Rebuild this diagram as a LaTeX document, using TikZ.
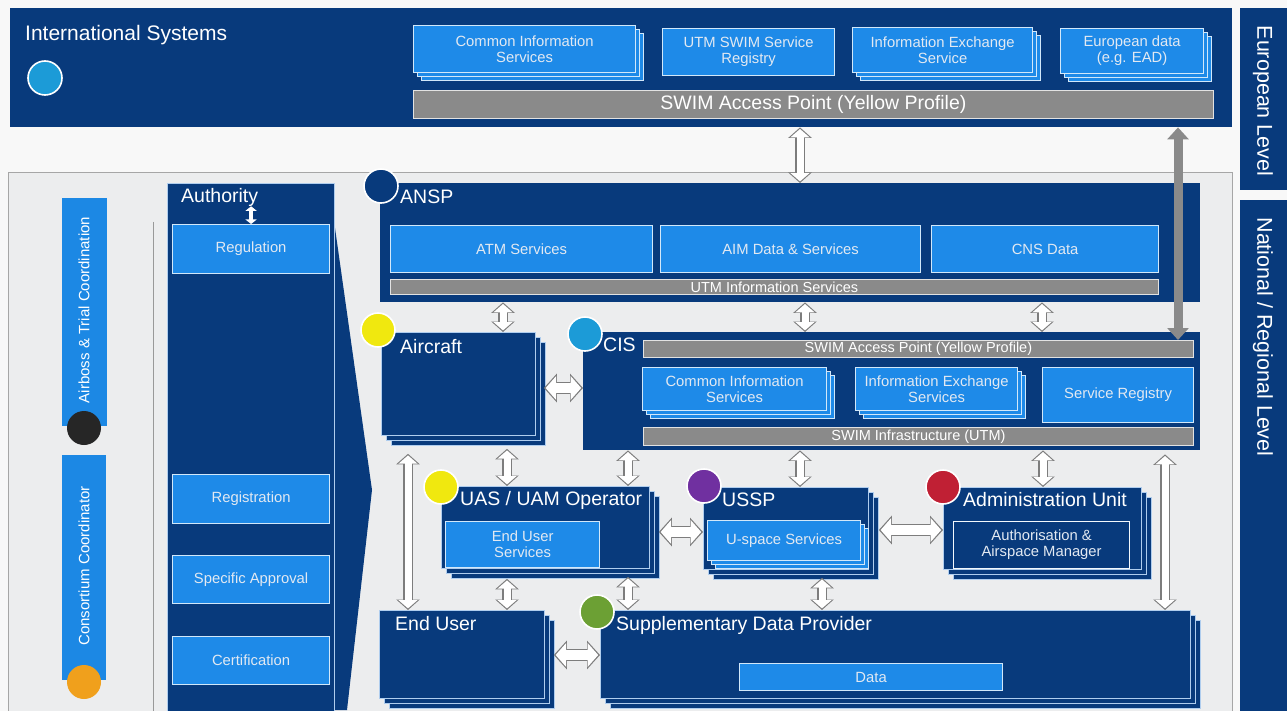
\documentclass[tikz,border=0pt]{standalone}
\usepackage{fontspec}
\setmainfont{Liberation Sans}
\usetikzlibrary{arrows.meta,shadows,calc}
\definecolor{navy}{RGB}{8,58,124}
\definecolor{bblue}{RGB}{30,138,232}
\definecolor{barblue}{RGB}{28,136,228}
\definecolor{bargray}{RGB}{138,138,138}
\definecolor{mainbg}{RGB}{236,237,238}
\definecolor{topbg}{RGB}{248,248,248}
\definecolor{boxtext}{RGB}{226,233,242}
\definecolor{lline}{RGB}{175,205,238}
\definecolor{arrgray}{RGB}{125,125,125}
\definecolor{dcyan}{RGB}{28,155,215}
\definecolor{dyellow}{RGB}{240,232,15}
\definecolor{dpurple}{RGB}{112,48,160}
\definecolor{dred}{RGB}{192,32,52}
\definecolor{dgreen}{RGB}{108,160,52}
\definecolor{dblack}{RGB}{38,38,38}
\definecolor{dorange}{RGB}{240,160,28}
\begin{document}
\begin{tikzpicture}[x=1pt,y=-1pt,
  base/.style={rectangle, inner sep=0pt, anchor=north west, align=center},
  wh/.style 2 args={minimum width=#1pt, minimum height=#2pt},
  navybox/.style={base, fill=navy},
  navystack/.style={base, fill=navy, draw=lline, line width=0.8pt,
     double copy shadow={shadow xshift=5pt, shadow yshift=-5pt}},
  bluebox/.style={base, fill=bblue, draw=white!80!bblue, line width=1.2pt,
     text=boxtext, font=\fontsize{14.8}{16}\selectfont},
  bluestack/.style={bluebox, double copy shadow={shadow xshift=4pt, shadow yshift=-4pt}},
  graybar/.style={base, fill=bargray, draw=white!75!bargray, line width=0.8pt, text=white},
  dot/.style={circle, minimum size=34pt, inner sep=0pt, draw=white, line width=1.6pt},
  title/.style={anchor=west, text=white, font=\fontsize{19.5}{21}\selectfont, inner sep=0pt},
  vtext/.style={text=white, inner sep=0pt},
  dbl/.style={draw=arrgray, line width=9.5pt,
     {Triangle[length=10.5pt,width=23pt]}-{Triangle[length=10.5pt,width=23pt]},
     postaction={draw=white, line width=7pt, shorten <=1.6pt, shorten >=1.6pt,
     {Triangle[length=8.3pt,width=18.6pt]}-{Triangle[length=8.3pt,width=18.6pt]}}},
  dblbig/.style={draw=arrgray, line width=12pt,
     {Triangle[length=13pt,width=28pt]}-{Triangle[length=13pt,width=28pt]},
     postaction={draw=white, line width=9.2pt, shorten <=1.8pt, shorten >=1.8pt,
     {Triangle[length=10.6pt,width=23.4pt]}-{Triangle[length=10.6pt,width=23.4pt]}}},
  garr/.style={draw=bargray, line width=9pt,
     {Triangle[length=12pt,width=21pt]}-{Triangle[length=12pt,width=21pt]}},
  sdbl/.style={draw=white, line width=4pt,
     {Triangle[length=4.5pt,width=11pt]}-{Triangle[length=4.5pt,width=11pt]}}
]
\useasboundingbox (0,0) rectangle (1287,711);
\fill[topbg] (0,0) rectangle (1287,711);

% main national area
\draw[draw=black!35, line width=1pt, fill=mainbg] (8,173) rectangle (1232,730);

% ---------- International systems ----------
\node[navybox, wh={1222}{119}] (intl) at (10,8) {};
\node[title, font=\fontsize{21}{23}\selectfont] (intlT) at (25,35) {International Systems};
\node[dot, fill=dcyan] (intlD) at (45,78) {};
\node[bluestack, wh={222}{47}] (tcis) at (413,25) {Common Information\\Services};
\node[bluebox, wh={172}{47}] (treg) at (662,28) {UTM SWIM Service\\Registry};
\node[bluestack, wh={180}{45}] (ties) at (852,27) {Information Exchange\\Service};
\node[bluestack, wh={143}{45}] (teur) at (1060,28) {European data\\(e.g. EAD)};
\node[graybar, wh={800}{28}, font=\fontsize{19.5}{21}\selectfont] (tswim) at (413,90) {SWIM Access Point (Yellow Profile)};

% ---------- right level panels ----------
\node[navybox, wh={47}{182}] (eur) at (1240,8) {};
\node[vtext, rotate=-90, font=\fontsize{21.5}{23}\selectfont] (eurT) at (1263,101) {European Level};
\node[navybox, wh={47}{515}] (nat) at (1240,200) {};
\node[vtext, rotate=-90, font=\fontsize{21.5}{23}\selectfont] (natT) at (1263,337) {National / Regional Level};

% ---------- left coordination bars ----------
\draw[black!40, line width=1pt] (153,222) -- (153,711);
\node[base, fill=barblue, wh={45}{228}] (airb) at (62,198) {};
\node[vtext, rotate=90, font=\fontsize{15}{17}\selectfont] (airbT) at (84,310) {Airboss \& Trial Coordination};
\node[dot, fill=dblack, draw=none] (airbD) at (84,428) {};
\node[base, fill=barblue, wh={44}{225}] (cons) at (62,455) {};
\node[vtext, rotate=90, font=\fontsize{15}{17}\selectfont] (consT) at (84,566) {Consortium Coordinator};
\node[dot, fill=dorange, draw=none] (consD) at (84,682) {};

% ---------- Authority ----------
\fill[navy] (335,228) -- (372,490) -- (347,710) -- (335,710) -- cycle;
\node[navybox, draw=lline, line width=0.8pt, wh={167}{530}] (auth) at (167,183) {};
\node[title] (authT) at (181,197) {Authority};
\node[bluebox, wh={157}{49}] (reg) at (172,224) {Regulation};
\node[bluebox, wh={157}{49}] (regis) at (172,474) {Registration};
\node[bluebox, wh={157}{48}] (spec) at (172,555) {Specific Approval};
\node[bluebox, wh={157}{48}] (cert) at (172,636) {Certification};
\draw[sdbl] (authT.south -| reg.north) -- (reg.north);

% ---------- ANSP ----------
\node[navybox, wh={820}{119}] (ansp) at (380,183) {};
\node[dot, fill=navy] (anspD) at (381,186) {};
\node[title] (anspT) at (400,197) {ANSP};
\node[bluebox, wh={262}{47}] (atm) at (390,225) {ATM Services};
\node[bluebox, wh={260}{47}] (aim) at (660,225) {AIM Data \& Services};
\node[bluebox, wh={227}{47}] (cns) at (931,225) {CNS Data};
\node[graybar, wh={768}{15}, font=\fontsize{14.5}{15}\selectfont] (utmis) at (390,279) {UTM Information Services};

% ---------- Aircraft ----------
\node[navystack, wh={154}{103}] (air) at (381,332) {};
\node[dot, fill=dyellow] (airD) at (378,330) {};
\node[title] (airT) at (400,347) {Aircraft};

% ---------- CIS ----------
\node[navybox, wh={617}{118}] (cis) at (583,332) {};
\node[dot, fill=dcyan] (cisD) at (585,334) {};
\node[title] (cisT) at (603,345) {CIS};
\node[graybar, wh={550}{17}, font=\fontsize{14.5}{15}\selectfont] (cisap) at (643,340) {SWIM Access Point (Yellow Profile)};
\node[bluestack, wh={184}{43}] (ccis) at (642,367) {Common Information\\Services};
\node[bluestack, wh={162}{43}] (cies) at (855,367) {Information Exchange\\Services};
\node[bluebox, wh={151}{55}] (csr) at (1042,367) {Service Registry};
\node[graybar, wh={550}{18}, font=\fontsize{14.5}{15}\selectfont] (cisinf) at (643,427) {SWIM Infrastructure (UTM)};

% ---------- UAS / UAM Operator ----------
\node[navystack, wh={208}{82}] (uas) at (441,486) {};
\node[dot, fill=dyellow] (uasD) at (441,487) {};
\node[title] (uasT) at (460,500) {UAS / UAM Operator};
\node[bluebox, wh={154}{46}] (eus) at (445,521) {End User\\Services};

% ---------- USSP ----------
\node[navystack, wh={165}{82}] (ussp) at (703,487) {};
\node[dot, fill=dpurple] (usspD) at (704,486) {};
\node[title] (usspT) at (722,500) {USSP};
\node[bluestack, wh={153}{40}] (uss) at (707,520) {U-space Services};

% ---------- Administration Unit ----------
\node[navystack, wh={198}{82}] (admin) at (943,487) {};
\node[dot, fill=dred] (adminD) at (943,487) {};
\node[title] (adminT) at (963,500) {Administration Unit};
\node[base, fill=navy, draw=white!85!lline, line width=1.2pt, text=boxtext,
      font=\fontsize{14.8}{16}\selectfont, wh={176}{47}] (aam) at (953,521) {Authorisation \&\\Airspace Manager};

% ---------- End User ----------
\node[navystack, wh={165}{88}] (eu) at (379,610) {};
\node[title] (euT) at (395,624) {End User};

% ---------- Supplementary Data Provider ----------
\node[navystack, wh={590}{88}] (sdp) at (600,610) {};
\node[dot, fill=dgreen] (sdpD) at (597,612) {};
\node[title] (sdpT) at (616,625) {Supplementary Data Provider};
\node[bluebox, wh={263}{27}] (data) at (739,663) {Data};

% ---------- connectors ----------
\coordinate (x408) at (408,0);
\coordinate (x503) at (503,0);
\coordinate (x507) at (507,0);
\coordinate (x628) at (628,0);
\coordinate (x800) at (800,0);
\coordinate (x805) at (805,0);
\coordinate (x822) at (822,0);
\coordinate (x1042) at (1042,0);
\coordinate (x1043) at (1043,0);
\coordinate (x1165) at (1165,0);
\coordinate (x1178) at (1178,0);
\coordinate (y388) at (0,388);
\coordinate (y532) at (0,532);
\coordinate (y530) at (0,530);
\coordinate (y655) at (0,655);

\draw[dbl] (intl.south -| x800) -- (ansp.north -| x800);
\draw[garr] (intl.south -| x1178) -- (cisap.north -| x1178);
\draw[dbl] (ansp.south -| x503) -- (air.north -| x503);
\draw[dbl] (ansp.south -| x805) -- (cis.north -| x805);
\draw[dbl] (ansp.south -| x1042) -- (cis.north -| x1042);
\draw[dblbig] ($(air.east |- y388)+(8,0)$) -- (cis.west |- y388);
\draw[dbl] ($(air.south -| x408)+(0,18)$) -- (eu.north -| x408);
\draw[dbl] ($(air.south -| x507)+(0,13)$) -- (uas.north -| x507);
\draw[dbl] (cis.south -| x628) -- (uas.north -| x628);
\draw[dbl] (cis.south -| x800) -- (ussp.north -| x800);
\draw[dbl] (cis.south -| x1043) -- (admin.north -| x1043);
\draw[dbl] ($(cis.south -| x1165)+(0,4)$) -- (sdp.north -| x1165);
\draw[dblbig] ($(uas.east |- y532)+(9,0)$) -- (ussp.west |- y532);
\draw[dblbig] ($(ussp.east |- y530)+(10,0)$) -- (admin.west |- y530);
\draw[dbl] ($(uas.south -| x507)+(0,10)$) -- (eu.north -| x507);
\draw[dbl] ($(uas.south -| x628)+(0,8)$) -- (sdp.north -| x628);
\draw[dbl] ($(ussp.south -| x822)+(0,8)$) -- (sdp.north -| x822);
\draw[dblbig] ($(eu.east |- y655)+(9,0)$) -- (sdp.west |- y655);
\end{tikzpicture}
\end{document}
